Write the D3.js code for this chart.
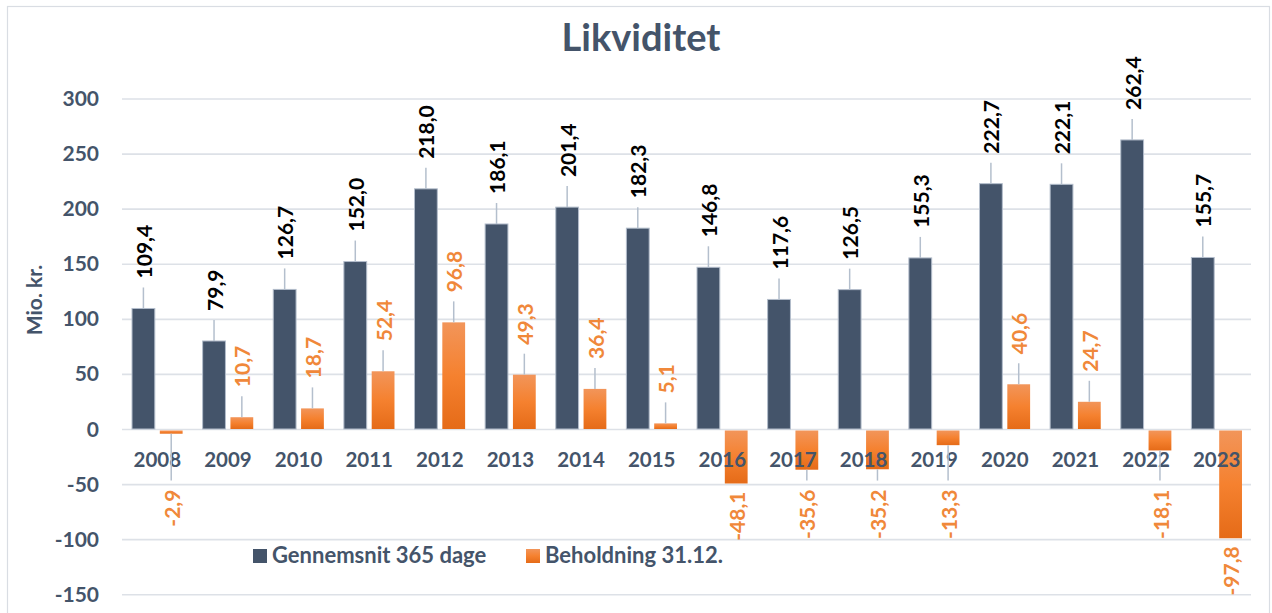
<!DOCTYPE html>
<html>
<head>
<meta charset="utf-8">
<script src="https://cdn.jsdelivr.net/npm/d3@7"></script>
<style>
  html, body { margin: 0; padding: 0; background: #fff; }
  svg { display: block; }
  text { font-family: Lato, "Open Sans", sans-serif; }
</style>
</head>
<body>
<svg id="chart" width="1272" height="613"></svg>
<script>
// ---- data ----
const years = ["2008","2009","2010","2011","2012","2013","2014","2015","2016","2017","2018","2019","2020","2021","2022","2023"];
const gennemsnit = [109.4, 79.9, 126.7, 152.0, 218.0, 186.1, 201.4, 182.3, 146.8, 117.6, 126.5, 155.3, 222.7, 222.1, 262.4, 155.7];
const beholdning = [-2.9, 10.7, 18.7, 52.4, 96.8, 49.3, 36.4, 5.1, -48.1, -35.6, -35.2, -13.3, 40.6, 24.7, -18.1, -97.8];
const seriesNames = ["Gennemsnit 365 dage", "Beholdning 31.12."];
const yTicks = [-150, -100, -50, 0, 50, 100, 150, 200, 250, 300];
const title = "Likviditet";
const yTitle = "Mio. kr.";

// ---- layout ----
const svg = d3.select("#chart");
const dark = "#44546a", orangeTxt = "#f0883a", grid = "#dde1e7", leader = "#b4bfcd";
const locale = d3.formatLocale({ decimal: ",", thousands: ".", grouping: [3], currency: ["", " kr."], minus: "-" });
const fmt = locale.format(".1f");

const defs = svg.append("defs");
const grad = defs.append("linearGradient").attr("id", "og")
  .attr("x1", 0).attr("y1", 0).attr("x2", 0).attr("y2", 1);
grad.append("stop").attr("offset", "0%").attr("stop-color", "#f2955a");
grad.append("stop").attr("offset", "50%").attr("stop-color", "#f5812f");
grad.append("stop").attr("offset", "100%").attr("stop-color", "#e56b18");

// border
svg.append("rect").attr("x", 7.5).attr("y", 6.5).attr("width", 1262).attr("height", 640)
  .attr("fill", "none").attr("stroke", "#d9dde3").attr("stroke-width", 1.2);

const y = d3.scaleLinear().domain([-150, 300]).range([594.25, 98.5]);
const x = d3.scaleBand().domain(years).range([122, 1252]).paddingInner(0).paddingOuter(0);
const xs = d3.scaleBand().domain([0, 1]).range([0, x.bandwidth()]).paddingInner(0.18).paddingOuter(0.36);

// gridlines via axis
const gAxis = svg.append("g").attr("transform", "translate(122,0)")
  .call(d3.axisLeft(y).tickValues(yTicks).tickSize(-(1251 - 122)).tickFormat(""));
gAxis.select(".domain").remove();
gAxis.selectAll(".tick line").attr("stroke", grid).attr("stroke-width", 1.6);

// y tick labels
svg.append("g").selectAll("text").data(yTicks).join("text")
  .attr("x", 99).attr("y", d => y(d)).attr("dy", "0.36em")
  .attr("text-anchor", "end").attr("font-size", 21).attr("font-weight", "bold")
  .attr("fill", dark).text(d => d);

// title
svg.append("text").attr("x", 641).attr("y", 51).attr("text-anchor", "middle")
  .attr("font-size", 38).attr("font-weight", "bold").attr("fill", dark).text(title);

// y title
svg.append("text").attr("transform", `translate(35,300) rotate(-90)`)
  .attr("text-anchor", "middle").attr("dy", "0.35em")
  .attr("font-size", 21).attr("font-weight", "bold").attr("fill", dark).text(yTitle);

const g1 = years.map((yr, i) => ({ yr, v: gennemsnit[i], s: 0 }));
const g2 = years.map((yr, i) => ({ yr, v: beholdning[i], s: 1 }));
const cx = d => x(d.yr) + xs(d.s) + xs.bandwidth() / 2;

// dark bars
svg.append("g").selectAll("rect").data(g1).join("rect")
  .attr("x", d => x(d.yr) + xs(0)).attr("width", xs.bandwidth())
  .attr("y", d => y(Math.max(0, d.v))).attr("height", d => Math.abs(y(d.v) - y(0)))
  .attr("fill", dark).attr("stroke", "#b3bdcb").attr("stroke-width", 1);

// orange bars
svg.append("g").selectAll("rect").data(g2).join("rect")
  .attr("x", d => x(d.yr) + xs(1)).attr("width", xs.bandwidth())
  .attr("y", d => d.v >= 0 ? y(d.v) : y(0) + 1.5)
  .attr("height", d => Math.abs(y(d.v) - y(0)))
  .attr("fill", "url(#og)");

// year labels (on top of bars)
svg.append("g").selectAll("text").data(years).join("text")
  .attr("x", d => x(d) + x.bandwidth() / 2).attr("y", 467)
  .attr("text-anchor", "middle").attr("font-size", 20.5).attr("font-weight", "bold")
  .attr("fill", dark).text(d => d);

// labels
const all = g1.concat(g2);
const labelPos = d => {
  if (d.v >= 0) {
    const top = y(d.v);
    return { anchor: "start", ly: top - 30, l1: top, l2: top - 21 };
  } else {
    const bot = y(d.v) + 1.5;
    const ly = Math.max(bot + 8, y(-55));
    return { anchor: "end", ly, l1: bot, l2: ly - 9 };
  }
};
svg.append("g").selectAll("line").data(all.filter(d => {
    const p = labelPos(d);
    return d.v >= 0 ? true : (p.l2 - p.l1 > 4);
  }))
  .join("line")
  .attr("x1", cx).attr("x2", cx)
  .attr("y1", d => labelPos(d).l1).attr("y2", d => labelPos(d).l2)
  .attr("stroke", leader).attr("stroke-width", 1.5);

svg.append("g").selectAll("text").data(all).join("text")
  .attr("transform", d => `translate(${cx(d) + 1},${labelPos(d).ly}) rotate(-90)`)
  .attr("text-anchor", d => labelPos(d).anchor).attr("dy", "0.36em")
  .attr("font-size", 21).attr("font-weight", "bold")
  .attr("fill", d => d.s === 0 ? "#000" : orangeTxt)
  .text(d => fmt(d.v));

// legend
const legend = svg.append("g");
const lx = [253, 526];
seriesNames.forEach((n, i) => {
  legend.append("rect").attr("x", lx[i]).attr("y", 549).attr("width", 14).attr("height", 14)
    .attr("fill", i === 0 ? dark : "url(#og)");
  legend.append("text").attr("x", lx[i] + 19).attr("y", 563)
    .attr("font-size", 22).attr("font-weight", "bold").attr("fill", dark).text(n);
});
</script>
</body>
</html>
